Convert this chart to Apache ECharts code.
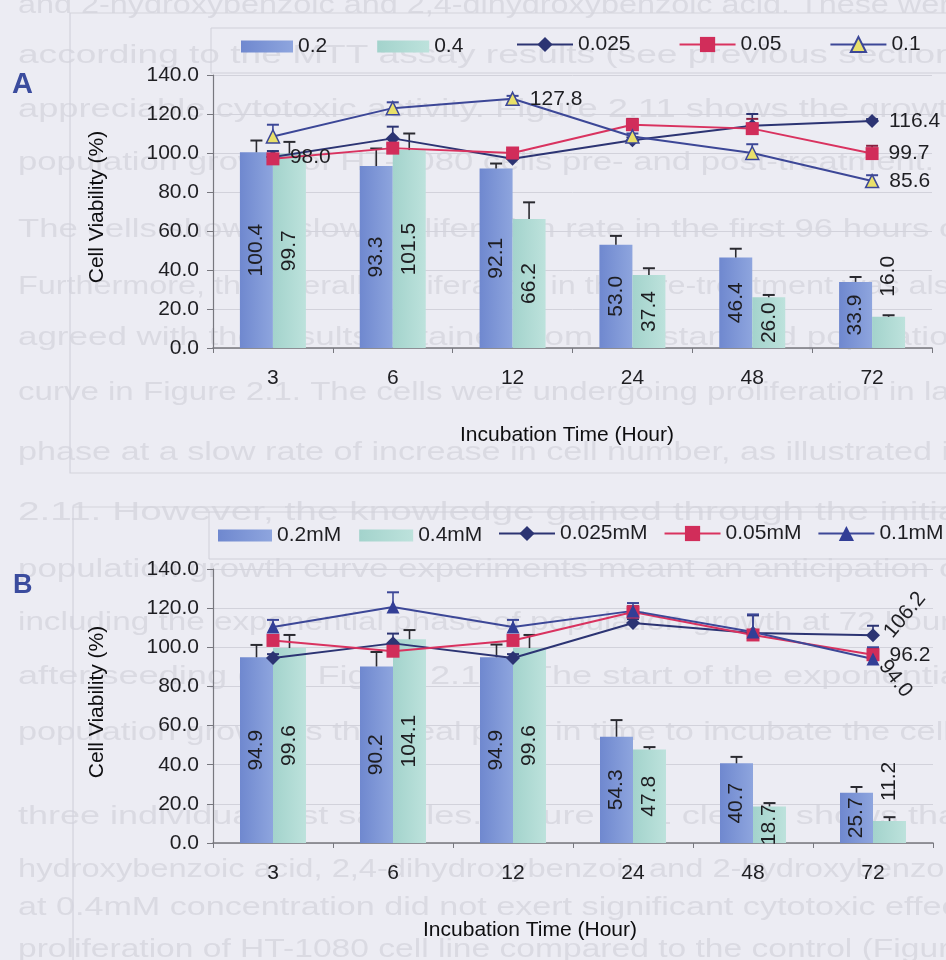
<!DOCTYPE html>
<html><head><meta charset="utf-8">
<script src="https://cdn.jsdelivr.net/npm/echarts@6/dist/echarts.min.js"></script>
<style>html,body{margin:0;padding:0;background:#ececf3}#chart{width:946px;height:960px}</style>
</head><body><div id="chart"></div>
<script>
// ---------- DATA ----------
const categories = ['3', '6', '12', '24', '48', '72'];
const yTicks = [0, 20, 40, 60, 80, 100, 120, 140];

const namesA = ['0.2', '0.4', '0.025', '0.05', '0.1'];
const barA02 = [100.4, 93.3, 92.1, 53.0, 46.4, 33.9];
const barA02Err = [6, 9, 2.5, 4.5, 4.5, 2.5];
const barA04 = [99.7, 101.5, 66.2, 37.4, 26.0, 16.0];
const barA04Err = [6, 8.5, 8.5, 3.5, 1.2, 0.8];
const lineA0025 = [98.0, 107.5, 97.0, 106.5, 114.0, 116.4];
const lineA0025Err = [3, 6, 1.5, 1.5, 6, 1];
const lineA005 = [97.0, 102.5, 100.0, 114.5, 112.5, 99.7];
const lineA005Err = [2, 2, 1.5, 3, 5, 4];
const lineA01 = [108.5, 123.0, 127.8, 108.5, 100.0, 85.6];
const lineA01Err = [6, 3, 1.5, 1.5, 4.5, 3];

const namesB = ['0.2mM', '0.4mM', '0.025mM', '0.05mM', '0.1mM'];
const barB02 = [94.9, 90.2, 94.9, 54.3, 40.7, 25.7];
const barB02Err = [6.3, 7.4, 6.5, 8.5, 3.3, 2.9];
const barB04 = [99.6, 104.1, 99.6, 47.8, 18.7, 11.2];
const barB04Err = [6.7, 4.7, 6.7, 1.2, 1.7, 2];
const lineB0025 = [94.5, 102.0, 94.5, 112.4, 107.3, 106.2];
const lineB0025Err = [2, 5, 2, 2, 9, 4.8];
const lineB005 = [103.5, 98.0, 103.5, 118.0, 106.3, 96.2];
const lineB005Err = [2.5, 2, 2, 3, 2, 3];
const lineB01 = [110.4, 120.6, 110.4, 118.6, 107.8, 94.0];
const lineB01Err = [3.6, 7.5, 3.6, 4, 9, 6];

// faint page text showing through the scanned figure
const pageLines = [
  'and 2-hydroxybenzoic and 2,4-dihydroxybenzoic acid. These were',
  'according to the MTT assay results (see previous section)',
  'appreciable cytotoxic activity. Figure 2.11 shows the growth',
  'population growth of HT-1080 cells pre- and post-treatment.',
  'The cells showed slow proliferation rate in the first 96 hours of',
  'Furthermore, the overall proliferation in the pre-treatment was also',
  'agreed with the results obtained from the standard population',
  'curve in Figure 2.1. The cells were undergoing proliferation in lag',
  'phase at a slow rate of increase in cell number, as illustrated in',
  '2.11. However, the knowledge gained through the initial',
  'population growth curve experiments meant an anticipation of',
  'including the exponential phase of population growth at 72 hours',
  'after seeding (see Figure 2.11). The start of the exponential',
  'population growth is the ideal point in time to incubate the cells',
  'three individual test samples. Figure 2.11 clearly shows that',
  'hydroxybenzoic acid, 2,4-dihydroxybenzoic and 2-hydroxybenzoic',
  'at 0.4mM concentration did not exert significant cytotoxic effect',
  'proliferation of HT-1080 cell line compared to the control (Figure'
];

// ---------- STYLE ----------
const pageLineY = [6, 56, 110, 163, 230, 287, 338, 393, 453, 513, 570, 623, 677, 733, 817, 870, 908, 950];
const pageLineEnds = [3]; // paragraph-final line (not stretched to full width)
const FONT = '"Liberation Sans", Arial, sans-serif';
const PAGE_FONT = 26, PAGE_LEFT = 18, PAGE_RIGHT = 968, PAGE_COLOR = '#dadae2';
const BAR_W = 33;
const C02 = {type: 'linear', x: 0, y: 0, x2: 1, y2: 0, colorStops: [{offset: 0, color: '#6f88cf'}, {offset: 1, color: '#8ea5de'}]};
const C04 = {type: 'linear', x: 0, y: 0, x2: 1, y2: 0, colorStops: [{offset: 0, color: '#a3d3cc'}, {offset: 1, color: '#bde2dc'}]};
const CNAVY = '#2c3473';
const CRED = '#d9325f';
const CBLUE = '#3c4797';
const TXT = '#1e1e22';

function barSeries(name, values, color, gi, smallIdx) {
  return {
    type: 'bar', name, xAxisIndex: gi, yAxisIndex: gi, barWidth: BAR_W, barGap: '0%', z: 2,
    itemStyle: {color},
    label: {show: true, position: 'inside', rotate: 90, fontSize: 21, color: TXT, fontFamily: FONT,
      formatter: p => Number(p.value).toFixed(1)},
    data: values.map((v, i) => smallIdx.includes(i)
      ? {value: v, label: {position: 'top', distance: 20, align: 'left', verticalAlign: 'middle'}}
      : v)
  };
}
function lineSeries(name, values, lineColor, symbol, size, fill, border, gi, labels) {
  return {
    type: 'line', name, xAxisIndex: gi, yAxisIndex: gi, symbol, symbolSize: size, z: 5,
    lineStyle: {color: lineColor, width: 2},
    itemStyle: {color: fill, borderColor: border, borderWidth: border === fill ? 0 : 1.5},
    data: values.map((v, i) => labels[i]
      ? {value: v, label: Object.assign({show: true, position: 'right', distance: 10, fontSize: 21,
          color: TXT, fontFamily: FONT, formatter: p => Number(p.value).toFixed(1)}, labels[i])}
      : v)
  };
}
function errSeries(values, errs, gi, side, color, z) {
  return {
    type: 'custom', xAxisIndex: gi, yAxisIndex: gi, z, silent: true,
    data: values.map((v, i) => [i, v, errs[i]]),
    encode: {x: 0, y: 1},
    renderItem: (params, api) => {
      const base = api.coord([api.value(0), api.value(1)]);
      const top = api.coord([api.value(0), api.value(1) + api.value(2)]);
      const x = base[0] + side * BAR_W / 2;
      return {type: 'group', children: [
        {type: 'line', shape: {x1: x, y1: base[1], x2: x, y2: top[1]}, style: {stroke: color, lineWidth: 1.6}},
        {type: 'line', shape: {x1: x - 6, y1: top[1], x2: x + 6, y2: top[1]}, style: {stroke: color, lineWidth: 2}}
      ]};
    }
  };
}

const grids = [
  {left: 213, top: 75, width: 719, height: 273},
  {left: 213, top: 569, width: 720, height: 274}
];

function legend(data, left, top, w, h, gap, icon) {
  const l = {data, left, top, orient: 'horizontal', itemWidth: w, itemHeight: h, itemGap: gap, padding: 0,
    textStyle: {fontSize: 21, color: TXT, fontFamily: FONT}, selectedMode: false};
  if (icon) l.icon = icon;
  return l;
}

// faint page text, horizontally stretched to the justified width
const mctx = document.createElement('canvas').getContext('2d');
mctx.font = PAGE_FONT + 'px "Liberation Sans"';
const scales = pageLines.map(t => (PAGE_RIGHT - PAGE_LEFT) / mctx.measureText(t).width);
const avgScale = scales.reduce((a, b) => a + b, 0) / scales.length;
const pageText = pageLines.map((t, li) => ({
  type: 'text', z: -30, silent: true, x: PAGE_LEFT, y: pageLineY[li],
  scaleX: pageLineEnds.includes(li) ? avgScale : scales[li],
  style: {text: t, fontSize: PAGE_FONT, fill: PAGE_COLOR, fontFamily: FONT, verticalAlign: 'middle'}
}));

const option = {
  backgroundColor: '#ececf3',
  animation: false,
  grid: grids,
  xAxis: [0, 1].map(gi => ({
    type: 'category', gridIndex: gi, data: categories,
    axisLine: {lineStyle: {color: '#77777e', width: 1.5}},
    axisTick: {show: true, length: 5, lineStyle: {color: '#77777e'}},
    axisLabel: {fontSize: 21, color: TXT, margin: 20, fontFamily: FONT}
  })),
  yAxis: [0, 1].map(gi => ({
    type: 'value', gridIndex: gi, min: yTicks[0], max: yTicks[yTicks.length - 1], interval: yTicks[1] - yTicks[0],
    axisLine: {show: true, lineStyle: {color: '#77777e', width: 1.2}},
    axisTick: {show: true, length: 6, lineStyle: {color: '#77777e'}},
    splitLine: {lineStyle: {color: '#d2d2db', width: 1}},
    axisLabel: {fontSize: 21, color: TXT, margin: 14, fontFamily: FONT, formatter: v => v.toFixed(1)}
  })),
  legend: [
    legend([namesA[0], namesA[1]], 241, 36, 52, 12, 50, 'rect'),
    legend([namesA[2], namesA[3], namesA[4]], 516, 34, 56, 19, 48),
    legend([namesB[0], namesB[1]], 218, 525, 54, 12, 18, 'rect'),
    legend([namesB[2], namesB[3], namesB[4]], 498, 523, 56, 19, 16)
  ],
  series: [
    barSeries(namesA[0], barA02, C02, 0, []),
    barSeries(namesA[1], barA04, C04, 0, [5]),
    errSeries(barA02, barA02Err, 0, -1, '#2a2a30', 3),
    errSeries(barA04, barA04Err, 0, 1, '#2a2a30', 3),
    errSeries(lineA0025, lineA0025Err, 0, 0, CNAVY, 4),
    errSeries(lineA005, lineA005Err, 0, 0, '#8a2040', 4),
    errSeries(lineA01, lineA01Err, 0, 0, CBLUE, 4),
    lineSeries(namesA[2], lineA0025, CNAVY, 'diamond', 14, CNAVY, CNAVY, 0, {0: {}, 5: {}}),
    lineSeries(namesA[3], lineA005, CRED, 'rect', 13, '#d12d5a', '#d12d5a', 0, {5: {}}),
    lineSeries(namesA[4], lineA01, CBLUE, 'triangle', 13, '#e9e06a', CBLUE, 0, {2: {}, 5: {}}),

    barSeries(namesB[0], barB02, C02, 1, []),
    barSeries(namesB[1], barB04, C04, 1, [5]),
    errSeries(barB02, barB02Err, 1, -1, '#2a2a30', 3),
    errSeries(barB04, barB04Err, 1, 1, '#2a2a30', 3),
    errSeries(lineB0025, lineB0025Err, 1, 0, CNAVY, 4),
    errSeries(lineB005, lineB005Err, 1, 0, '#8a2040', 4),
    errSeries(lineB01, lineB01Err, 1, 0, CBLUE, 4),
    lineSeries(namesB[2], lineB0025, CNAVY, 'diamond', 14, CNAVY, CNAVY, 1, {5: {rotate: 50, distance: 8}}),
    lineSeries(namesB[3], lineB005, CRED, 'rect', 13, '#d12d5a', '#d12d5a', 1, {5: {}}),
    lineSeries(namesB[4], lineB01, CBLUE, 'triangle', 13, '#323e96', '#323e96', 1, {5: {rotate: -52, distance: 8, offset: [0, 6]}})
  ],
  graphic: pageText.concat([
    {type: 'rect', z: -10, shape: {x: 70, y: 13, width: 900, height: 460}, style: {fill: 'none', stroke: '#d3d3dc', lineWidth: 1.2}},
    {type: 'rect', z: -10, shape: {x: 73, y: 507, width: 900, height: 480}, style: {fill: 'none', stroke: '#d3d3dc', lineWidth: 1.2}},
    {type: 'rect', z: -9, shape: {x: 211, y: 28, width: 760, height: 45}, style: {fill: 'none', stroke: '#d0d0d9', lineWidth: 1}},
    {type: 'rect', z: -9, shape: {x: 209, y: 512, width: 760, height: 47}, style: {fill: 'none', stroke: '#d0d0d9', lineWidth: 1}},
    {type: 'text', left: 12, top: 70, style: {text: 'A', fontSize: 29, fontWeight: 'bold', fill: '#3b4c9e', fontFamily: FONT}},
    {type: 'text', left: 13, top: 572, style: {text: 'B', fontSize: 27, fontWeight: 'bold', fill: '#3b4c9e', fontFamily: FONT}},
    {type: 'text', x: 567, y: 435, style: {text: 'Incubation Time (Hour)', fontSize: 21, fill: '#0e0e10', fontFamily: FONT, align: 'center', verticalAlign: 'middle'}},
    {type: 'text', x: 530, y: 930, style: {text: 'Incubation Time (Hour)', fontSize: 21, fill: '#0e0e10', fontFamily: FONT, align: 'center', verticalAlign: 'middle'}},
    {type: 'text', x: 97, y: 207, rotation: Math.PI / 2, style: {text: 'Cell Viability (%)', fontSize: 21, fill: '#0e0e10', fontFamily: FONT, align: 'center', verticalAlign: 'middle'}},
    {type: 'text', x: 97, y: 702, rotation: Math.PI / 2, style: {text: 'Cell Viability (%)', fontSize: 21, fill: '#0e0e10', fontFamily: FONT, align: 'center', verticalAlign: 'middle'}}
  ])
};

const chart = echarts.init(document.getElementById('chart'), null, {renderer: 'canvas'});
chart.setOption(option);
</script>
</body></html>
